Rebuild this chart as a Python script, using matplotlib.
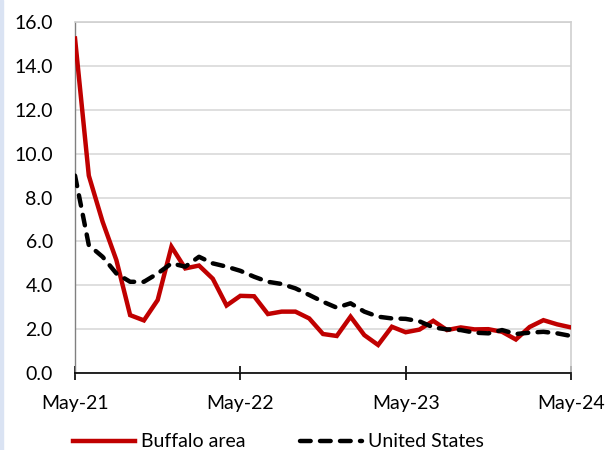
#!/usr/bin/env python3
"""Buffalo area vs United States, monthly series May-21 to May-24."""
import matplotlib
matplotlib.use("Agg")
import matplotlib.pyplot as plt
from matplotlib.patches import Rectangle

plt.rcParams["font.family"] = ["Lato", "DejaVu Sans"]

MONTHS = list(range(37))  # 0 = May-21 ... 36 = May-24
TICK_POS = [0, 12, 24, 36]
TICK_LABELS = ["May-21", "May-22", "May-23", "May-24"]

BUFFALO = [15.25, 9.0, 6.9, 5.15, 2.64, 2.4, 3.33, 5.76, 4.77, 4.9,
           4.3, 3.08, 3.52, 3.5, 2.69, 2.8, 2.8, 2.49, 1.78, 1.69,
           2.57, 1.73, 1.28, 2.11, 1.86, 1.98, 2.38, 1.96, 2.08, 1.99,
           2.0, 1.88, 1.53, 2.1, 2.41, 2.22, 2.08]
US = [9.0, 5.83, 5.3, 4.54, 4.16, 4.16, 4.54, 5.0, 4.85, 5.3,
      5.0, 4.85, 4.66, 4.39, 4.16, 4.06, 3.86, 3.56, 3.25, 2.98,
      3.18, 2.8, 2.57, 2.49, 2.47, 2.36, 2.08, 1.99, 1.96, 1.84,
      1.81, 1.96, 1.78, 1.84, 1.88, 1.81, 1.69]


def main():
    fig = plt.figure(figsize=(6.1, 4.5), dpi=100)
    ax = fig.add_axes([0.123, 0.171, 0.813, 0.780])

    fig.patches.append(Rectangle((0, 0), 0.005, 1, transform=fig.transFigure,
                                 color="#dae3f3", zorder=0))

    ax.plot(MONTHS, BUFFALO, color="#c00000", linewidth=3.2,
            label="Buffalo area", solid_joinstyle="miter", zorder=3)
    ax.plot(MONTHS, US, color="black", linewidth=3.2, linestyle=(0, (2.4, 2.1)),
            dash_capstyle="round", label="United States", zorder=3)

    ax.set_xlim(0, 36)
    ax.set_ylim(0, 16)
    ax.set_yticks(range(0, 17, 2))
    ax.set_yticklabels([f"{v:.1f}" for v in range(0, 17, 2)])
    ax.set_xticks(TICK_POS)
    ax.set_xticklabels(TICK_LABELS)
    ax.tick_params(axis="y", length=0, pad=16, labelsize=14)
    ax.tick_params(axis="x", direction="inout", length=10, width=1.2,
                   pad=11, labelsize=14)
    ax.grid(axis="y", color="#d9d9d9", linewidth=1.2)
    ax.set_axisbelow(True)

    for side in ("top", "right"):
        ax.spines[side].set_color("#d0d0d0")
        ax.spines[side].set_linewidth(1.2)
    ax.spines["left"].set_color("#808080")
    ax.spines["left"].set_linewidth(1.0)
    ax.spines["bottom"].set_color("black")
    ax.spines["bottom"].set_linewidth(1.2)

    ax.legend(loc="lower center", bbox_to_anchor=(0.41, -0.27), ncol=2,
              frameon=False, fontsize=14, handlelength=3.2, handletextpad=0.3,
              columnspacing=2.8)

    fig.savefig("out.png", dpi=100)


if __name__ == "__main__":
    main()
